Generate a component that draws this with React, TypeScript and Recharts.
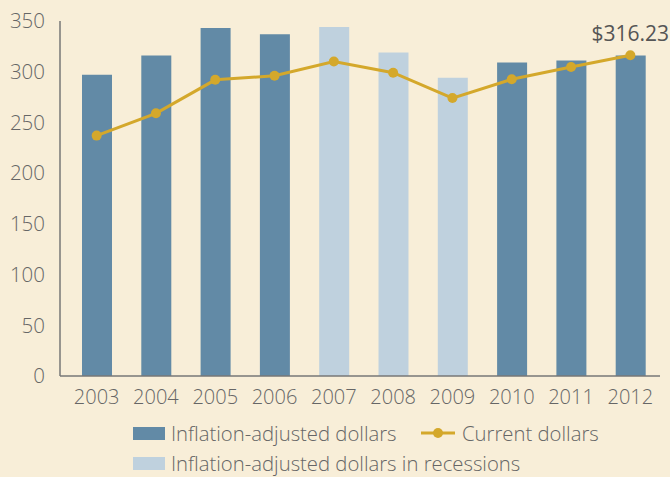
import React from 'react';
import {
  ComposedChart, Bar, Line, XAxis, YAxis, Cell, LabelList, Legend,
} from 'recharts';

const years = ['2003', '2004', '2005', '2006', '2007', '2008', '2009', '2010', '2011', '2012'];
const adjusted = [297, 316, 343, 337, 344, 319, 294, 309, 311, 316];
const current = [237, 259, 292, 296, 310, 299, 274, 292.5, 304.6, 316.23];
const recession = [false, false, false, false, true, true, true, false, false, false];
const yTicks = [0, 50, 100, 150, 200, 250, 300, 350];

const DARK = '#628aa6';
const LIGHT = '#bfd1de';
const GOLD = '#d4a82b';
const TEXT = '#666666';
const BG = '#f8eed8';
const FONT = '"Open Sans", sans-serif';

const data = years.map((y, i) => ({
  year: y,
  adjusted: adjusted[i],
  current: current[i],
  recession: recession[i],
}));

function LegendBox() {
  const txt: React.CSSProperties = { fontFamily: FONT, fontSize: 20.3, fontWeight: 300, color: TEXT, whiteSpace: 'nowrap', lineHeight: '24px' };
  return (
    <div style={{ position: 'relative', width: 670, height: 58 }}>
      <div style={{ position: 'absolute', left: 133, top: 10, width: 32, height: 13, background: DARK }} />
      <div style={{ ...txt, position: 'absolute', left: 171, top: 4 }}>Inflation-adjusted dollars</div>
      <svg style={{ position: 'absolute', left: 421, top: 9 }} width={34} height={14}>
        <line x1={0} y1={7} x2={34} y2={7} stroke={GOLD} strokeWidth={3} />
        <circle cx={17} cy={7} r={5} fill={GOLD} />
      </svg>
      <div style={{ ...txt, position: 'absolute', left: 462, top: 4 }}>Current dollars</div>
      <div style={{ position: 'absolute', left: 133, top: 40, width: 32, height: 13, background: LIGHT }} />
      <div style={{ ...txt, position: 'absolute', left: 171, top: 34 }}>Inflation-adjusted dollars in recessions</div>
    </div>
  );
}

export default function App() {
  return (
    <div style={{ position: 'fixed', left: 0, top: 0, width: 670, height: 477, background: BG, overflow: 'hidden' }}>
      <ComposedChart width={670} height={477} data={data} margin={{ top: 21, right: 10, left: 0, bottom: 61 }}>
        <XAxis
          dataKey="year"
          height={40}
          padding={{ left: 7, right: 0 }}
          tickLine={false}
          tickSize={0}
          tickMargin={14}
          axisLine={{ stroke: '#777', strokeWidth: 1.5 }}
          tick={{ fill: TEXT, fontSize: 20, fontWeight: 300, fontFamily: FONT }}
          interval={0}
        />
        <YAxis
          width={60}
          domain={[0, 350]}
          ticks={yTicks}
          tickLine={false}
          tickSize={0}
          tickMargin={15}
          axisLine={{ stroke: '#777', strokeWidth: 1.5 }}
          tick={{ fill: TEXT, fontSize: 20.5, fontWeight: 300, fontFamily: FONT }}
        />
        <Legend
          verticalAlign="middle"
          align="center"
          wrapperStyle={{ top: 417, left: 0, width: 670 }}
          content={() => <LegendBox />}
        />
        <Bar dataKey="adjusted" barSize={30} isAnimationActive={false}>
          {data.map((d) => (
            <Cell key={d.year} fill={d.recession ? LIGHT : DARK} />
          ))}
        </Bar>
        <Line
          dataKey="current"
          stroke={GOLD}
          strokeWidth={3}
          dot={{ r: 5, fill: GOLD, stroke: 'none' }}
          activeDot={false}
          isAnimationActive={false}
        >
          <LabelList
            dataKey="current"
            position="top"
            offset={12}
            content={(p: any) =>
              p.index === years.length - 1 ? (
                <text x={p.x} y={p.y - 14} textAnchor="middle" fill="#555" fontSize={21} fontWeight={500} fontFamily={FONT}>
                  {'$' + Number(p.value).toFixed(2)}
                </text>
              ) : null
            }
          />
        </Line>
      </ComposedChart>
    </div>
  );
}
